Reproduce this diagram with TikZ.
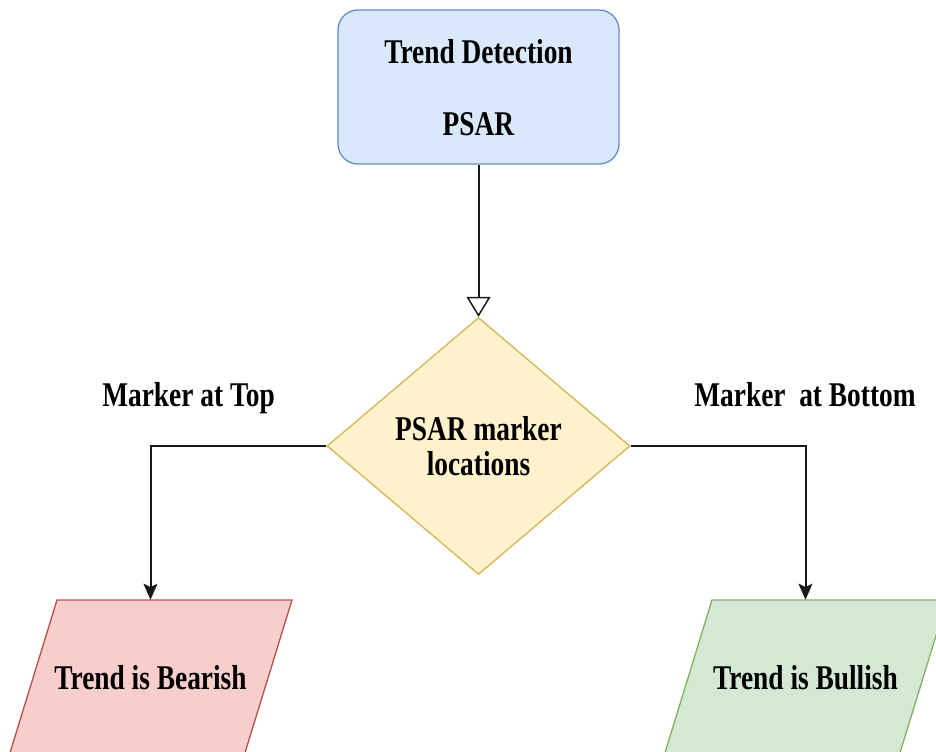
\documentclass[tikz,border=0pt]{standalone}
\usepackage{fontspec}
\setmainfont{Liberation Serif}[FakeStretch=0.79]
\usetikzlibrary{shapes.geometric,arrows.meta}

\definecolor{detfill}{HTML}{DAE8FC}
\definecolor{detline}{HTML}{6C8EBF}
\definecolor{decfill}{HTML}{FFF2CC}
\definecolor{decline}{HTML}{D6B656}
\definecolor{bearfill}{HTML}{F8CECC}
\definecolor{bearline}{HTML}{B85450}
\definecolor{bullfill}{HTML}{D5E8D4}
\definecolor{bullline}{HTML}{82B366}

\tikzset{
  txt/.style={font=\bfseries\fontsize{26}{26}\selectfont, text=black},
  procbox/.style={draw=detline, fill=detfill, line width=1pt, rounded corners=15pt,
    minimum width=210.75pt, minimum height=115.5pt, inner sep=0pt},
  decbox/.style={diamond, draw=decline, fill=decfill, line width=1pt,
    minimum width=227.25pt, minimum height=192.75pt, inner sep=0pt, align=center, txt},
  % text area of an output parallelogram (the slanted outline is drawn separately)
  outbox/.style={minimum width=176.25pt, minimum height=117pt, inner sep=0pt, txt},
  slantbox/.style={line width=1pt},
  link/.style={draw=black!90, line width=1.5pt},
  openarrow/.style={link, -{Triangle[open, length=15pt, width=18pt, line width=1.1pt]}},
  solidarrow/.style={link, -{Stealth[length=12pt, width=10.5pt, inset=2.5pt]}},
}

\begin{document}
\begin{tikzpicture}[x=0.75pt, y=-0.75pt]
  \useasboundingbox (0,0) rectangle (936,751);
  \clip (0,0) rectangle (936,751);

  % process box
  \node[procbox] (det) at (478.5,87) {};
  \node[txt, anchor=base] (detA) at (478.5,63) {Trend Detection};
  \node[txt, anchor=base] (detB) at (478.5,135) {PSAR};

  % decision
  \node[decbox] (dec) at (478.5,446) {PSAR marker\\locations};

  % output parallelograms (top edge y=600, 48px slant over the height)
  \draw[slantbox, draw=bearline, fill=bearfill]
    (57,600) -- (292,600) -- (244,756) -- (9,756) -- cycle;
  \draw[slantbox, draw=bullline, fill=bullfill]
    (712,600) -- (947,600) -- (899,756) -- (664,756) -- cycle;
  \node[outbox] (bear) at (150.5,678) {Trend is Bearish};
  \node[outbox] (bull) at (805.5,678) {Trend is Bullish};

  % branch labels
  \node[txt, anchor=base] (ltop) at (188.5,406) {Marker at Top};
  \node[txt, anchor=base] (lbot) at (805,406) {Marker\ \ at Bottom};

  % connectors
  \draw[openarrow] (det.south) -- (dec.north);
  \draw[solidarrow] (dec.west) -| (bear.north);
  \draw[solidarrow] (dec.east) -| (bull.north);
\end{tikzpicture}
\end{document}
